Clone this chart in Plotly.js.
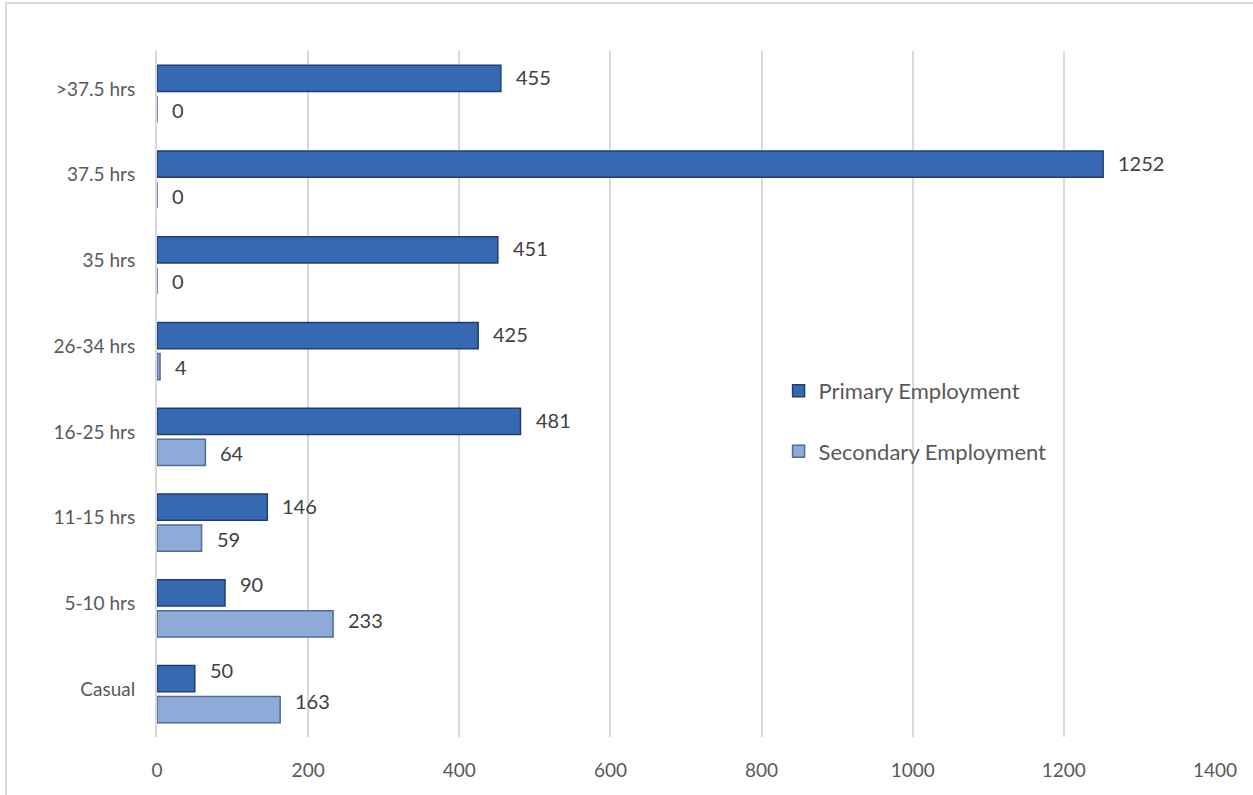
<!DOCTYPE html>
<html>
<head>
<meta charset="utf-8">
<script src="https://cdn.plot.ly/plotly-3.0.1.min.js"></script>
<style>
html,body{margin:0;padding:0;background:#fff;overflow:hidden;}
#chart{position:absolute;left:0;top:0;width:1253px;height:795px;}
#frame{position:absolute;left:5px;top:2px;width:1400px;height:900px;border-left:2px solid #d9d9d9;border-top:2px solid #d9d9d9;pointer-events:none;}
</style>
</head>
<body>
<div id="chart"></div>
<div id="frame"></div>
<script>
const categories = ['Casual','5-10 hrs','11-15 hrs','16-25 hrs','26-34 hrs','35 hrs','37.5 hrs','>37.5 hrs'];
const primaryValues = [50, 90, 146, 481, 425, 451, 1252, 455];
const secondaryValues = [163, 233, 59, 64, 4, 0, 0, 0];
const xTicks = [0, 200, 400, 600, 800, 1000, 1200, 1400];

// label placement nudges (pixels), separate from the data
const primaryNudge = [7, 7, 0, 0, 0, 0, 0, 0];
const secondaryNudge = [9, 4, 0, 0, 0, 0, 0, 0];

const fontFam = 'Lato, "Open Sans", sans-serif';
const labelColor = '#404040';

const traces = [
  {
    type: 'bar', orientation: 'h', name: 'Secondary Employment',
    y: categories, x: secondaryValues,
    marker: {color: '#8eaad9', line: {color: '#4f6b98', width: 1.5}},
    legendgroup: 's', legendrank: 2
  },
  {
    type: 'bar', orientation: 'h', name: 'Primary Employment',
    y: categories, x: primaryValues,
    marker: {color: '#3769b3', line: {color: '#1f3f73', width: 1.5}},
    legendgroup: 'p', legendrank: 1
  }
];

function labels(vals, yshift, nudge) {
  return vals.map((v, i) => ({
    x: v, y: categories[i], xref: 'x', yref: 'y',
    text: String(v), showarrow: false,
    xanchor: 'left', yanchor: 'middle', xshift: 13, yshift: yshift + nudge[i],
    font: {family: fontFam, size: 20, color: labelColor}
  }));
}

const layout = {
  width: 1253, height: 795,
  margin: {l: 157, r: 38, t: 51, b: 58},
  paper_bgcolor: '#fff', plot_bgcolor: '#fff',
  barmode: 'group', bargap: 0.275, bargroupgap: 0.16,
  font: {family: fontFam, size: 19, color: '#595959'},
  xaxis: {
    range: [0, 1400], tickvals: xTicks, ticktext: xTicks.map(String),
    showgrid: true, gridcolor: '#d9d9d9', gridwidth: 2,
    zeroline: false, showline: false,
    ticks: 'outside', ticklen: 16, tickcolor: 'rgba(0,0,0,0)',
    tickfont: {family: fontFam, size: 19, color: '#595959'}
  },
  yaxis: {
    type: 'category', categoryorder: 'array', categoryarray: categories,
    showgrid: false, zeroline: false,
    showline: true, linecolor: '#d9d9d9', linewidth: 2,
    ticks: 'outside', ticklen: 16, tickcolor: 'rgba(0,0,0,0)',
    ticklabelshift: -5,
    tickfont: {family: fontFam, size: 19, color: '#595959'}
  },
  annotations: labels(primaryValues, 17, primaryNudge).concat(labels(secondaryValues, -16, secondaryNudge)),
  showlegend: true,
  legend: {
    x: 0.5875, y: 0.46, xanchor: 'left', yanchor: 'middle',
    traceorder: 'grouped', tracegroupgap: 29,
    font: {family: fontFam, size: 22, color: '#595959'},
    bgcolor: 'rgba(0,0,0,0)', itemwidth: 30
  }
};

Plotly.newPlot('chart', traces, layout, {displayModeBar: false, staticPlot: true});
</script>
</body>
</html>
